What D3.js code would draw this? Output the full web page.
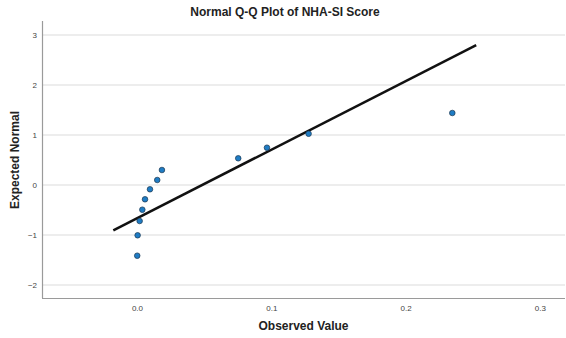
<!DOCTYPE html>
<html>
<head>
<meta charset="utf-8">
<script src="https://cdn.jsdelivr.net/npm/d3@7"></script>
<style>
  body { margin: 0; background: #fff; }
  svg { font-family: "Liberation Sans", Arial, sans-serif; }
</style>
</head>
<body>
<div id="chart"></div>
<script>
// observed values and their expected normal scores
var observed = [0.0002, 0.0005, 0.002, 0.004, 0.006, 0.0097, 0.0151, 0.0186, 0.0754, 0.0968, 0.1278, 0.2348];
var expected = [-1.414, -1.006, -0.72, -0.494, -0.286, -0.086, 0.10, 0.30, 0.534, 0.746, 1.026, 1.44];

// reference line: y = (x - mean) / sd
var lineMean = 0.0485;
var lineSd = 0.073;
var lineExtent = [-0.0176, 0.2526];

var xTicks = [0.0, 0.1, 0.2, 0.3];
var yTicks = [-2, -1, 0, 1, 2, 3];

var width = 566,
    height = 338;
var margin = { top: 21, right: 1, bottom: 40, left: 42 };

var svg = d3.select("#chart")
    .append("svg")
    .attr("width", width)
    .attr("height", height);

var x = d3.scaleLinear()
    .domain([-0.0707, 0.3187])
    .range([margin.left, width - margin.right]);

var y = d3.scaleLinear()
    .domain([-2.26, 3.28])
    .range([height - margin.bottom, margin.top]);

// gridlines
svg.append("g")
    .selectAll("line")
    .data(yTicks)
    .enter().append("line")
    .attr("x1", margin.left)
    .attr("x2", width - margin.right)
    .attr("y1", function (d) { return y(d); })
    .attr("y2", function (d) { return y(d); })
    .style("stroke", "#dcdcdc")
    .style("stroke-width", 1.2);

// axes
var xAxis = svg.append("g")
    .attr("transform", "translate(0," + (height - margin.bottom) + ")")
    .call(d3.axisBottom(x).tickValues(xTicks).tickFormat(d3.format(".1f")).tickSize(0).tickPadding(7));

var yAxis = svg.append("g")
    .attr("transform", "translate(" + margin.left + ",0)")
    .call(d3.axisLeft(y).tickValues(yTicks).tickFormat(d3.format("d")).tickSize(0).tickPadding(5));

[xAxis, yAxis].forEach(function (g) {
    g.select(".domain").style("stroke", "#9a9a9a").style("stroke-width", 1.2);
    g.selectAll("text").style("font-size", "8px").style("fill", "#444");
});
yAxis.select(".domain").attr("d", "M0.5," + margin.top + "V" + (height - margin.bottom));
xAxis.select(".domain").attr("d", "M" + margin.left + ",0.5H" + (width - margin.right));

// reference line
svg.append("line")
    .attr("x1", x(lineExtent[0]))
    .attr("y1", y((lineExtent[0] - lineMean) / lineSd))
    .attr("x2", x(lineExtent[1]))
    .attr("y2", y((lineExtent[1] - lineMean) / lineSd))
    .style("stroke", "#111")
    .style("stroke-width", 2.5);

// points
svg.append("g")
    .selectAll("circle")
    .data(observed)
    .enter().append("circle")
    .attr("cx", function (d) { return x(d); })
    .attr("cy", function (d, i) { return y(expected[i]); })
    .attr("r", 2.8)
    .style("fill", "#1f7cc4")
    .style("stroke", "#1d3850")
    .style("stroke-width", 0.7);

// titles
svg.append("text")
    .attr("x", 285)
    .attr("y", 16)
    .attr("text-anchor", "middle")
    .style("font-size", "12px")
    .style("font-weight", "bold")
    .style("fill", "#222")
    .text("Normal Q-Q Plot of NHA-SI Score");

svg.append("text")
    .attr("x", (margin.left + width - margin.right) / 2)
    .attr("y", 330)
    .attr("text-anchor", "middle")
    .style("font-size", "12px")
    .style("font-weight", "bold")
    .style("fill", "#222")
    .text("Observed Value");

svg.append("text")
    .attr("transform", "translate(19,160) rotate(-90)")
    .attr("text-anchor", "middle")
    .style("font-size", "12px")
    .style("font-weight", "bold")
    .style("fill", "#222")
    .text("Expected Normal");
</script>
</body>
</html>
